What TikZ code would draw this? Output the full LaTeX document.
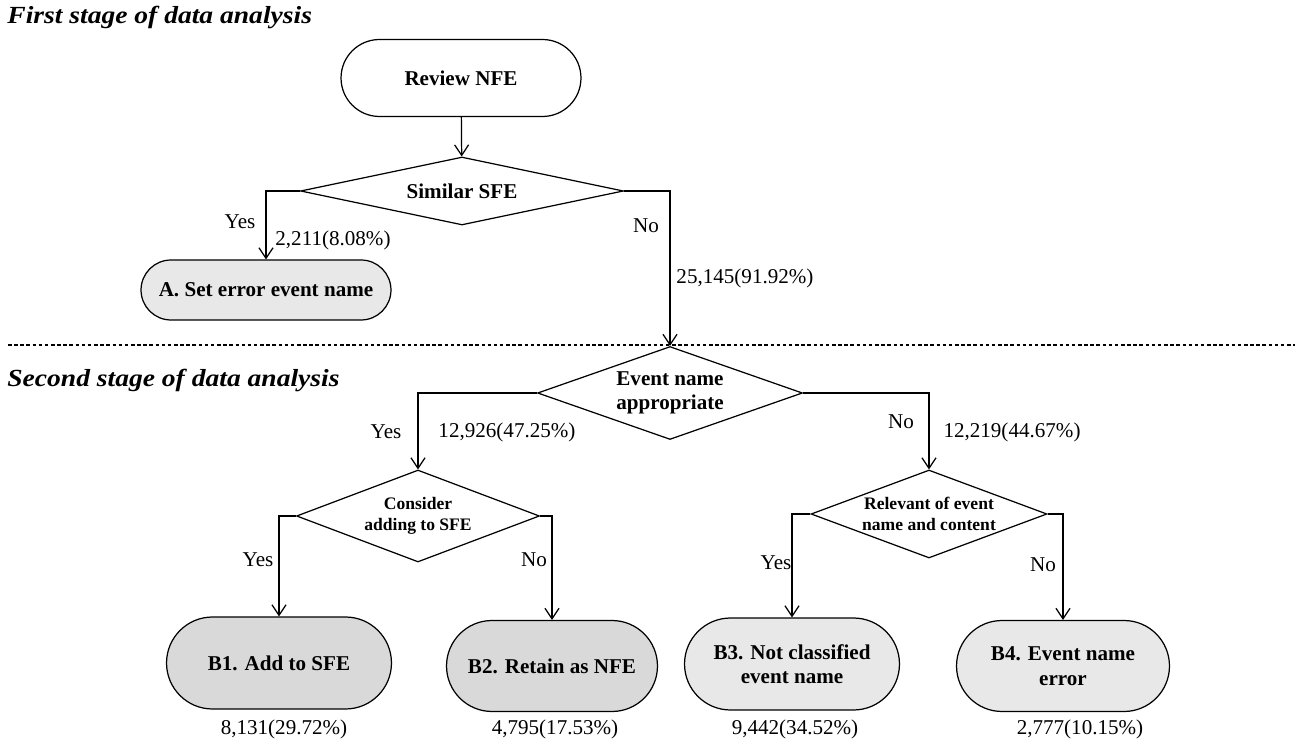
\documentclass[tikz,border=0pt]{standalone}
\usepackage{fontspec}
\setmainfont{Liberation Serif}
\usetikzlibrary{positioning, shapes.geometric, shapes.misc, arrows.meta}
\definecolor{lightfill}{HTML}{E8E8E8}
\definecolor{darkfill}{HTML}{D9D9D9}

\begin{document}
\begin{tikzpicture}[
    x = 0.02cm, y = -0.02cm,
    every node/.style = {font=\fontsize{12}{14}\selectfont},
    term/.style = {rounded rectangle, draw, line width=0.7pt, inner sep=0pt,
                   align=center, font=\fontsize{12}{14}\selectfont\bfseries},
    decide/.style = {diamond, draw, line width=0.7pt, inner sep=0pt, aspect=3,
                     align=center, font=\fontsize{12}{14}\selectfont\bfseries},
    smalldecide/.style = {decide, font=\fontsize{10}{12}\selectfont\bfseries},
    stage/.style = {anchor=west, inner sep=0pt, xscale=1.12, transform shape,
                    font=\fontsize{14}{16}\selectfont\bfseries\itshape},
    arr/.style = {-{Straight Barb[length=6pt, width=8pt]}, line width=0.7pt}
]
\useasboundingbox (0,0) rectangle (1295,746);

% First stage
\node[stage] (first) at (7,18) {First stage of data analysis};
\node[term, minimum width=4.8cm, minimum height=1.54cm] (review) at (461,78) {Review NFE};
\node[decide, minimum width=6.46cm, minimum height=1.36cm] (similar) at (462,191) {Similar SFE};
\node[term, fill=lightfill, minimum width=5cm, minimum height=1.2cm] (seta) at (266,290) {A. Set error event name};

\draw[arr] (review) -- (similar);
\draw[arr] (similar.west) -| (seta.north);
\node (yesA) at (240,222) {Yes};
\node (numA) at (333,240) {2,211(8.08\%)};

% stage border
\coordinate (lineL) at (8,345);
\coordinate (lineR) at (1295,345);
\draw[dash pattern=on 2pt off 1.5pt, line width=0.6pt] (lineL) -- (lineR);

% Second stage
\node[stage] (second) at (7,380) {Second stage of data analysis};
\node[decide, minimum width=5.3cm, minimum height=1.86cm] (event) at (670,393) {Event name\\appropriate};
\node[smalldecide, minimum width=4.86cm, minimum height=1.84cm] (consider) at (418,516) {Consider\\adding to SFE};
\node[smalldecide, minimum width=4.72cm, minimum height=1.76cm] (relevant) at (929,514) {Relevant of event\\name and content};

\draw[arr] (similar.east) -| (event.north);
\node (noA) at (646,226) {No};
\node (numEv) at (745,278) {25,145(91.92\%)};

\draw[arr] (event.west) -| (consider.north);
\draw[arr] (event.east) -| (relevant.north);
\node (yesC) at (386,432) {Yes};
\node (numC) at (507,432) {12,926(47.25\%)};
\node (noR) at (901,422) {No};
\node (numR) at (1012,432) {12,219(44.67\%)};

% Results
\node[term, fill=darkfill, minimum width=4.5cm, minimum height=1.84cm] (b1) at (279,663) {B1. Add to SFE};
\node[term, fill=darkfill, minimum width=4.22cm, minimum height=1.82cm] (b2) at (552,666) {B2. Retain as NFE};
\node[term, fill=lightfill, minimum width=4.3cm, minimum height=1.84cm] (b3) at (792,664) {B3. Not classified\\event name};
\node[term, fill=lightfill, minimum width=4.26cm, minimum height=1.82cm] (b4) at (1063,666) {B4. Event name\\error};

\draw[arr] (consider.west) -| (b1.north);
\draw[arr] (consider.east) -| (b2.north);
\draw[arr] (relevant.west) -| (b3.north);
\draw[arr] (relevant.east) -| (b4.north);
\node (yesB1) at (258,560) {Yes};
\node (noB2) at (534,560) {No};
\node (yesB3) at (776,563) {Yes};
\node (noB4) at (1043,565) {No};

\node (numB1) at (284,729) {8,131(29.72\%)};
\node (numB2) at (555,729) {4,795(17.53\%)};
\node (numB3) at (795,729) {9,442(34.52\%)};
\node (numB4) at (1080,729) {2,777(10.15\%)};

\end{tikzpicture}
\end{document}
